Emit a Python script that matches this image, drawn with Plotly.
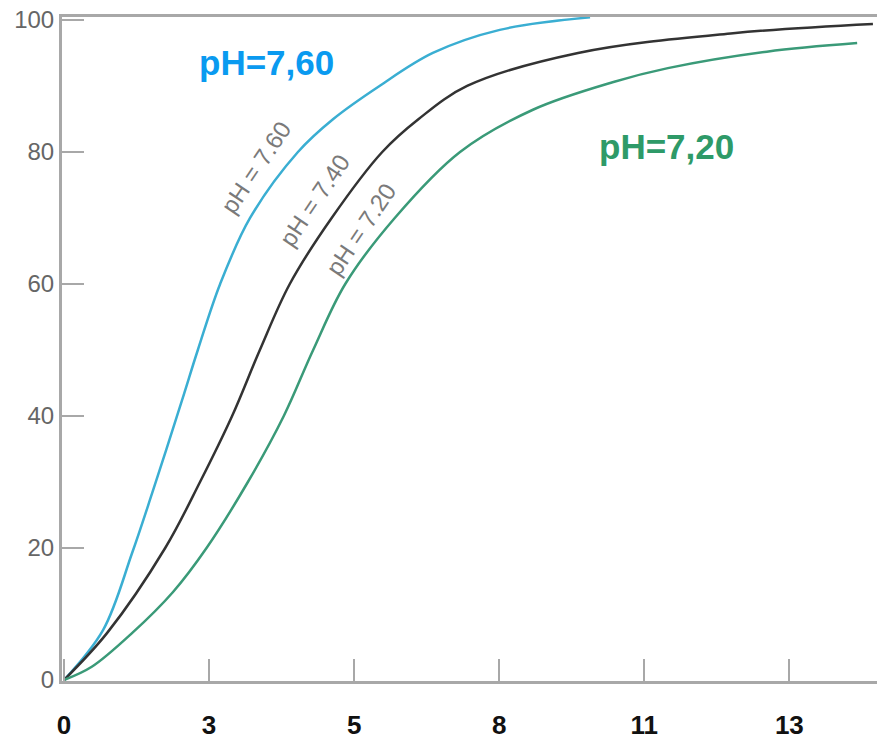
import plotly.graph_objects as go

# PO2 (kPa) and saturation (%)
x_760 = [0, 0.72, 1.25, 1.62, 2.17, 2.46, 2.87, 3.42, 4.30, 4.95, 5.80, 6.78, 8.01, 9.67]
y_760 = [0, 7.6, 19.2, 28.3, 42.4, 50, 60, 70, 80, 85, 90, 95, 98.5, 100.4]

x_740 = [0, 0.79, 1.86, 2.50, 3.09, 3.60, 4.15, 4.92, 5.85, 6.52, 7.41, 9.45, 12.30, 14.87]
y_740 = [0, 7.1, 20, 30, 40, 50, 60, 70, 80, 85, 90, 95, 98.0, 99.4]

x_720 = [0, 0.51, 1.25, 2.00, 2.62, 3.38, 4.04, 4.58, 5.17, 6.08, 7.28, 8.62, 10.10, 11.10, 12.92, 14.58]
y_720 = [0, 2.0, 7.1, 13.3, 20, 30, 40, 50, 60, 70, 80, 86.4, 90.6, 92.7, 95.2, 96.5]

x_tickvals = [0, 20 / 7.5, 40 / 7.5, 60 / 7.5, 80 / 7.5, 100 / 7.5]
x_ticktext = ["0", "3", "5", "8", "11", "13"]
y_tickvals = [0, 20, 40, 60, 80, 100]

fig = go.Figure()
fig.add_trace(go.Scatter(x=x_760, y=y_760, mode="lines",
                         line=dict(color="#3aaed2", width=2.5, shape="spline", smoothing=1.0),
                         hoverinfo="skip"))
fig.add_trace(go.Scatter(x=x_740, y=y_740, mode="lines",
                         line=dict(color="#333333", width=2.5, shape="spline", smoothing=1.0),
                         hoverinfo="skip"))
fig.add_trace(go.Scatter(x=x_720, y=y_720, mode="lines",
                         line=dict(color="#3a9a78", width=2.5, shape="spline", smoothing=1.0),
                         hoverinfo="skip"))

# Big coloured labels
fig.add_annotation(x=3.73, y=93.5, text="<b>pH=7,60</b>", showarrow=False,
                   font=dict(family="Liberation Sans, Arial", size=35, color="#0a9af0"))
fig.add_annotation(x=11.07, y=80.8, text="<b>pH=7,20</b>", showarrow=False,
                   font=dict(family="Liberation Sans, Arial", size=35, color="#2e9a68"))

# Rotated grey labels along the curves
for xx, yy, t in [(3.53, 77.6, "pH = 7.60"), (4.60, 72.7, "pH = 7.40"), (5.46, 68.2, "pH = 7.20")]:
    fig.add_annotation(x=xx, y=yy, text=t, showarrow=False, textangle=-56,
                       font=dict(family="Liberation Sans, Arial", size=24, color="#7a7a7a"))

fig.update_layout(
    width=877, height=740,
    margin=dict(l=62, r=0, t=17, b=59),
    paper_bgcolor="white", plot_bgcolor="white",
    showlegend=False,
)
fig.update_xaxes(
    range=[-0.037, 14.945], showgrid=False, zeroline=False, automargin=False,
    showline=True, linecolor="#a8a8a8", linewidth=2.5, mirror=True,
    ticks="inside", ticklen=22, tickwidth=2, tickcolor="#a8a8a8",
    tickvals=x_tickvals, ticktext=x_ticktext,
    tickfont=dict(family="Liberation Sans, Arial", size=26, color="#111111", weight="bold"),
    ticklabelstandoff=19,
)
fig.update_yaxes(
    range=[-0.15, 100.45], showgrid=False, zeroline=False, automargin=False,
    showline=True, linecolor="#a8a8a8", linewidth=3,
    ticks="inside", ticklen=22, tickwidth=2, tickcolor="#a8a8a8",
    tickvals=y_tickvals,
    tickfont=dict(family="Liberation Sans, Arial", size=24, color="#666666"),
    ticklabelstandoff=0,
)

fig.write_html("out.html", config={"displayModeBar": False},
               post_script="document.body.style.margin='0px';")
